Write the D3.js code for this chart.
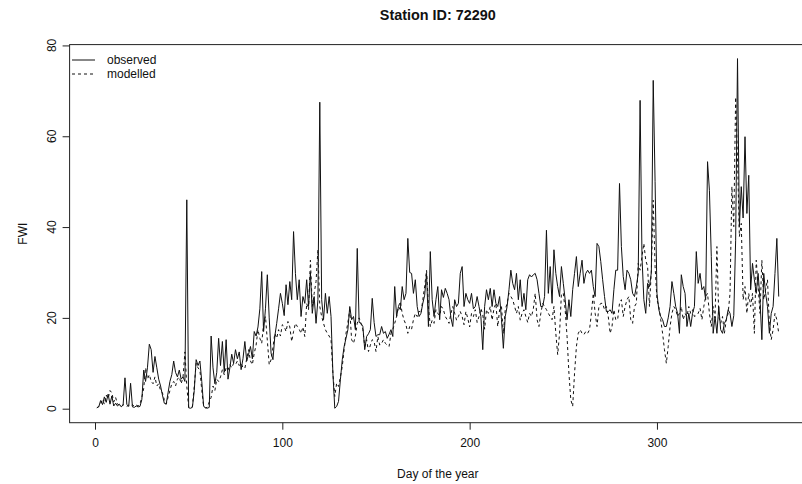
<!DOCTYPE html>
<html>
<head>
<meta charset="utf-8">
<script src="https://cdn.jsdelivr.net/npm/d3@7"></script>
<style>
  body { margin: 0; background: #fff; }
  text { font-family: "Liberation Sans", Arial, sans-serif; fill: #111; }
</style>
</head>
<body>
<svg id="chart" width="802" height="484"></svg>
<script>
// daily FWI, station 72290
var observed = [
  0.2, 0.4, 1.8, 0.9, 2.6, 1.4, 3.2, 1.0, 2.8, 0.6,
  1.2, 0.6, 1.0, 0.4, 0.8, 6.8, 0.9, 0.5, 5.6, 0.4,
  0.3, 0.6, 0.4, 0.5, 2.0, 8.5, 6.0, 9.0, 14.2, 13.0,
  8.0, 11.5, 9.0, 6.5, 5.0, 3.0, 1.2, 1.0, 3.5, 6.0,
  7.5, 10.5, 8.0, 7.0, 8.5, 6.5, 7.0, 6.0, 46.0, 0.2,
  0.1, 0.3, 4.0, 10.8, 9.5, 10.5, 6.0, 0.5, 0.2, 0.1,
  0.3, 16.0, 9.0, 5.5, 8.0, 15.5, 9.5, 14.8, 8.0, 15.2,
  6.5, 9.0, 12.0, 10.0, 13.0, 11.0, 12.5, 8.6, 11.0, 14.8,
  10.5, 12.0, 13.7, 11.0, 17.0, 16.0, 18.0, 22.0, 30.2, 17.0,
  22.0, 29.5, 20.0, 12.2, 10.8, 16.0, 18.8, 22.0, 25.4, 23.2,
  20.5, 27.3, 22.9, 28.0, 24.0, 39.0, 29.8, 24.0, 28.4, 20.3,
  24.7, 23.2, 28.4, 22.5, 30.0, 21.0, 24.7, 18.8, 24.0, 67.5,
  24.0, 19.6, 25.4, 21.0, 24.7, 20.3, 7.8, 0.1, 0.5, 1.6,
  6.4, 10.8, 13.7, 15.5, 17.4, 22.5, 19.6, 20.3, 17.4, 35.3,
  19.0, 18.8, 18.1, 13.0, 15.9, 16.5, 17.4, 24.3, 19.0, 15.9,
  16.3, 16.3, 18.1, 16.6, 17.0, 15.5, 16.4, 17.4, 15.9, 26.9,
  20.3, 22.5, 21.8, 26.9, 24.0, 25.4, 37.5, 30.0, 29.8, 25.4,
  28.4, 22.5, 20.3, 21.0, 23.2, 25.0, 29.8, 18.1, 34.6, 24.0,
  20.3, 24.0, 26.9, 19.6, 26.2, 24.5, 26.5, 25.4, 24.0, 20.0,
  18.1, 24.0, 22.5, 23.2, 29.8, 31.3, 22.5, 25.4, 24.0, 23.2,
  25.4, 22.0, 22.5, 24.7, 22.5, 20.3, 13.0, 22.5, 26.2, 24.0,
  26.5, 22.5, 26.2, 23.2, 22.5, 24.7, 19.6, 13.3, 20.3, 22.5,
  26.2, 30.5, 27.6, 26.2, 29.8, 24.0, 28.4, 22.5, 25.4, 21.8,
  28.4, 29.5, 29.0, 29.5, 29.8, 28.4, 25.4, 22.5, 22.5, 24.7,
  39.3, 25.4, 31.3, 23.2, 35.0, 29.8, 26.9, 24.7, 31.3, 27.6,
  24.0, 19.6, 24.0, 20.3, 26.2, 29.8, 33.5, 26.9, 29.8, 32.7,
  27.6, 29.8, 30.5, 29.8, 30.5, 26.9, 24.7, 36.4, 35.7, 32.4,
  28.4, 24.7, 21.4, 21.4, 21.8, 21.0, 26.2, 30.5, 30.5, 49.6,
  35.7, 29.1, 26.2, 30.5, 29.8, 28.4, 25.4, 24.7, 26.9, 29.8,
  67.9, 33.5, 24.0, 21.0, 27.6, 26.9, 30.0, 72.3, 50.0, 25.4,
  21.8, 20.3, 19.6, 18.1, 18.1, 20.0, 22.5, 28.0, 25.4, 22.5,
  21.0, 16.6, 29.5, 26.9, 25.4, 18.1, 21.0, 18.1, 21.0, 22.5,
  34.6, 27.6, 29.8, 26.2, 26.9, 24.0, 54.4, 48.1, 33.5, 16.6,
  20.3, 16.6, 22.5, 17.4, 16.6, 18.8, 19.6, 21.8, 21.0, 18.1,
  20.5, 37.1, 77.1, 40.1, 48.9, 42.0, 59.9, 43.0, 51.4, 26.2,
  32.0, 28.4, 25.4, 29.8, 24.0, 15.2, 29.8, 25.4, 22.5, 16.6,
  21.0, 22.5, 29.8, 37.5, 24.7
];

var modelled = [
  0.2, 0.5, 1.2, 2.0, 1.0, 3.0, 2.2, 4.0, 3.5, 1.5,
  2.5, 1.0, 0.8, 0.5, 0.9, 0.6, 0.5, 0.8, 0.6, 0.9,
  0.5, 0.8, 0.6, 1.0, 2.5, 4.5, 9.0, 6.5, 7.5, 6.0,
  5.5, 7.0, 5.0, 5.5, 4.0, 3.5, 2.0, 1.0, 2.5, 4.0,
  5.5, 6.0, 5.0, 6.5, 7.0, 5.5, 7.0, 12.5, 5.0, 0.3,
  0.2, 0.5, 5.0, 10.0, 9.0, 8.5, 4.0, 0.5, 0.2, 0.3,
  1.5, 2.5, 5.0, 4.0, 6.5, 6.0, 7.0, 8.6, 7.5, 9.0,
  8.5, 9.7, 9.0, 10.0, 9.7, 10.5, 9.5, 10.0, 9.0, 8.9,
  11.0, 13.0, 10.5, 9.7, 12.2, 14.0, 17.4, 15.5, 14.4, 18.8,
  20.3, 15.0, 9.7, 10.8, 13.5, 16.6, 15.5, 17.4, 16.0, 18.5,
  18.1, 17.0, 19.2, 18.0, 14.8, 17.0, 18.8, 18.1, 17.5, 16.6,
  18.0, 15.9, 23.2, 21.8, 32.7, 22.5, 25.4, 28.0, 35.0, 22.5,
  20.3, 18.8, 17.4, 16.6, 16.0, 15.2, 7.8, 2.7, 5.6, 4.9,
  7.0, 9.3, 13.0, 16.6, 19.0, 21.8, 15.2, 14.4, 16.0, 18.8,
  20.0, 18.8, 17.4, 13.7, 15.2, 12.6, 14.0, 15.2, 14.8, 12.6,
  15.9, 14.0, 14.4, 15.2, 14.4, 14.0, 13.7, 16.6, 17.5, 18.8,
  20.3, 22.5, 23.6, 21.0, 19.5, 18.5, 16.6, 18.1, 17.5, 19.6,
  21.0, 20.3, 21.5, 21.0, 24.0, 27.0, 30.5, 22.5, 18.1, 19.5,
  18.8, 21.8, 21.0, 20.5, 22.5, 21.8, 20.3, 19.6, 18.8, 21.0,
  22.5, 21.0, 19.5, 20.3, 21.4, 20.3, 18.5, 21.4, 19.9, 18.0,
  21.0, 20.3, 21.8, 19.0, 20.3, 22.1, 20.7, 17.5, 21.8, 21.0,
  22.5, 19.5, 22.1, 23.2, 18.1, 21.8, 22.5, 16.5, 21.8, 23.2,
  25.4, 24.7, 24.0, 22.5, 21.0, 22.5, 19.5, 21.0, 21.8, 20.3,
  19.0, 21.0, 20.3, 22.0, 25.4, 19.6, 18.1, 21.0, 23.2, 22.5,
  21.8, 21.0, 20.3, 19.6, 22.5, 16.6, 11.9, 16.6, 25.4, 25.4,
  21.8, 15.9, 7.8, 2.0, 0.5, 7.8, 13.7, 16.6, 17.4, 16.6,
  16.3, 17.0, 16.6, 17.4, 21.0, 25.4, 21.0, 18.1, 22.5, 23.2,
  23.2, 21.8, 22.5, 20.3, 16.6, 18.1, 21.8, 19.6, 19.6, 23.2,
  24.0, 20.3, 22.5, 24.0, 24.7, 19.6, 18.8, 22.5, 23.2, 32.0,
  30.5, 33.5, 36.4, 32.7, 31.3, 22.5, 30.5, 45.9, 31.3, 24.0,
  22.5, 19.6, 16.6, 13.0, 10.0, 13.7, 18.1, 21.0, 22.5, 21.8,
  20.3, 21.0, 22.5, 19.6, 21.0, 20.3, 22.5, 21.0, 21.8, 20.3,
  20.5, 21.0, 22.1, 19.6, 22.5, 24.7, 25.4, 21.0, 18.1, 22.5,
  20.0, 35.7, 20.3, 18.8, 20.3, 16.6, 19.6, 21.0, 25.4, 48.9,
  40.1, 68.6, 55.0, 37.9, 40.8, 24.0, 26.9, 21.0, 25.4, 22.5,
  25.4, 16.6, 32.7, 26.9, 21.0, 32.7, 24.0, 26.2, 28.4, 18.8,
  15.2, 17.4, 21.0, 19.6, 16.6
];

var days = d3.range(1, observed.length + 1);
var xTicks = [0, 100, 200, 300];
var yTicks = [0, 20, 40, 60, 80];
var seriesNames = ["observed", "modelled"];
var dashes = [null, "3,3"];

// plot region (R default margins, right edge runs off the picture)
var plotLeft = 69.6, plotRight = 806, plotTop = 44.6, plotBottom = 422.7;

var svg = d3.select("#chart");

// R style 4% padding on both axes
var xPad = (d3.max(days) - d3.min(days)) * 0.04;
var yMax = d3.max(observed.concat(modelled));
var x = d3.scaleLinear()
    .domain([d3.min(days) - xPad, d3.max(days) + xPad])
    .range([plotLeft, plotRight]);
var y = d3.scaleLinear()
    .domain([-yMax * 0.04, yMax * 1.04])
    .range([plotBottom, plotTop]);

var line = function(vals){
  return d3.line()
    .x(function(d, i){ return x(days[i]); })
    .y(function(d){ return y(d); })(vals);
};

svg.append("rect").attr("width", 802).attr("height", 484).attr("fill", "#fff");

[observed, modelled].forEach(function(vals, i){
  svg.append("path")
    .attr("d", line(vals))
    .attr("fill", "none")
    .attr("stroke", "#111")
    .attr("stroke-width", 1)
    .attr("stroke-dasharray", dashes[i]);
});

// box
svg.append("rect")
    .attr("x", plotLeft).attr("y", plotTop)
    .attr("width", plotRight - plotLeft).attr("height", plotBottom - plotTop)
    .attr("fill", "none").attr("stroke", "#222").attr("stroke-width", 1);

// x axis
var xAxis = svg.append("g")
    .attr("transform", "translate(0," + plotBottom + ")")
    .call(d3.axisBottom(x).tickValues(xTicks).tickSize(7).tickPadding(9));
xAxis.select(".domain").remove();
xAxis.selectAll("line").attr("stroke", "#222");
xAxis.selectAll("text").attr("font-size", 12).attr("font-family", "Liberation Sans, Arial, sans-serif").attr("fill", "#111");

// y axis, labels turned like R's las=0
var yAxis = svg.append("g")
    .attr("transform", "translate(" + plotLeft + ",0)")
    .call(d3.axisLeft(y).tickValues(yTicks).tickSize(7).tickFormat(""));
yAxis.select(".domain").remove();
yAxis.selectAll("line").attr("stroke", "#222");

svg.selectAll(".ylab")
    .data(yTicks)
  .enter().append("text")
    .attr("class", "ylab")
    .attr("transform", function(d){ return "translate(56," + y(d) + ") rotate(-90)"; })
    .attr("text-anchor", "middle")
    .attr("font-size", 12)
    .text(function(d){ return d; });

// titles
svg.append("text")
    .attr("x", (plotLeft + plotRight) / 2).attr("y", 20)
    .attr("text-anchor", "middle")
    .attr("font-size", 14.4).attr("font-weight", "bold")
    .text("Station ID: 72290");

svg.append("text")
    .attr("x", (plotLeft + plotRight) / 2).attr("y", 478)
    .attr("text-anchor", "middle")
    .attr("font-size", 12)
    .text("Day of the year");

svg.append("text")
    .attr("transform", "translate(27," + (plotTop + plotBottom) / 2 + ") rotate(-90)")
    .attr("text-anchor", "middle")
    .attr("font-size", 12)
    .text("FWI");

// legend, top left, no frame
var legend = svg.selectAll(".legend")
    .data(seriesNames)
  .enter().append("g")
    .attr("class", "legend")
    .attr("transform", function(d, i){ return "translate(0," + (60 + i * 14) + ")"; });

legend.append("line")
    .attr("x1", 72).attr("x2", 95)
    .attr("stroke", "#111").attr("stroke-width", 1)
    .attr("stroke-dasharray", function(d, i){ return dashes[i]; });

legend.append("text")
    .attr("x", 107).attr("y", 4.3)
    .attr("font-size", 12)
    .text(function(d){ return d; });
</script>
</body>
</html>
